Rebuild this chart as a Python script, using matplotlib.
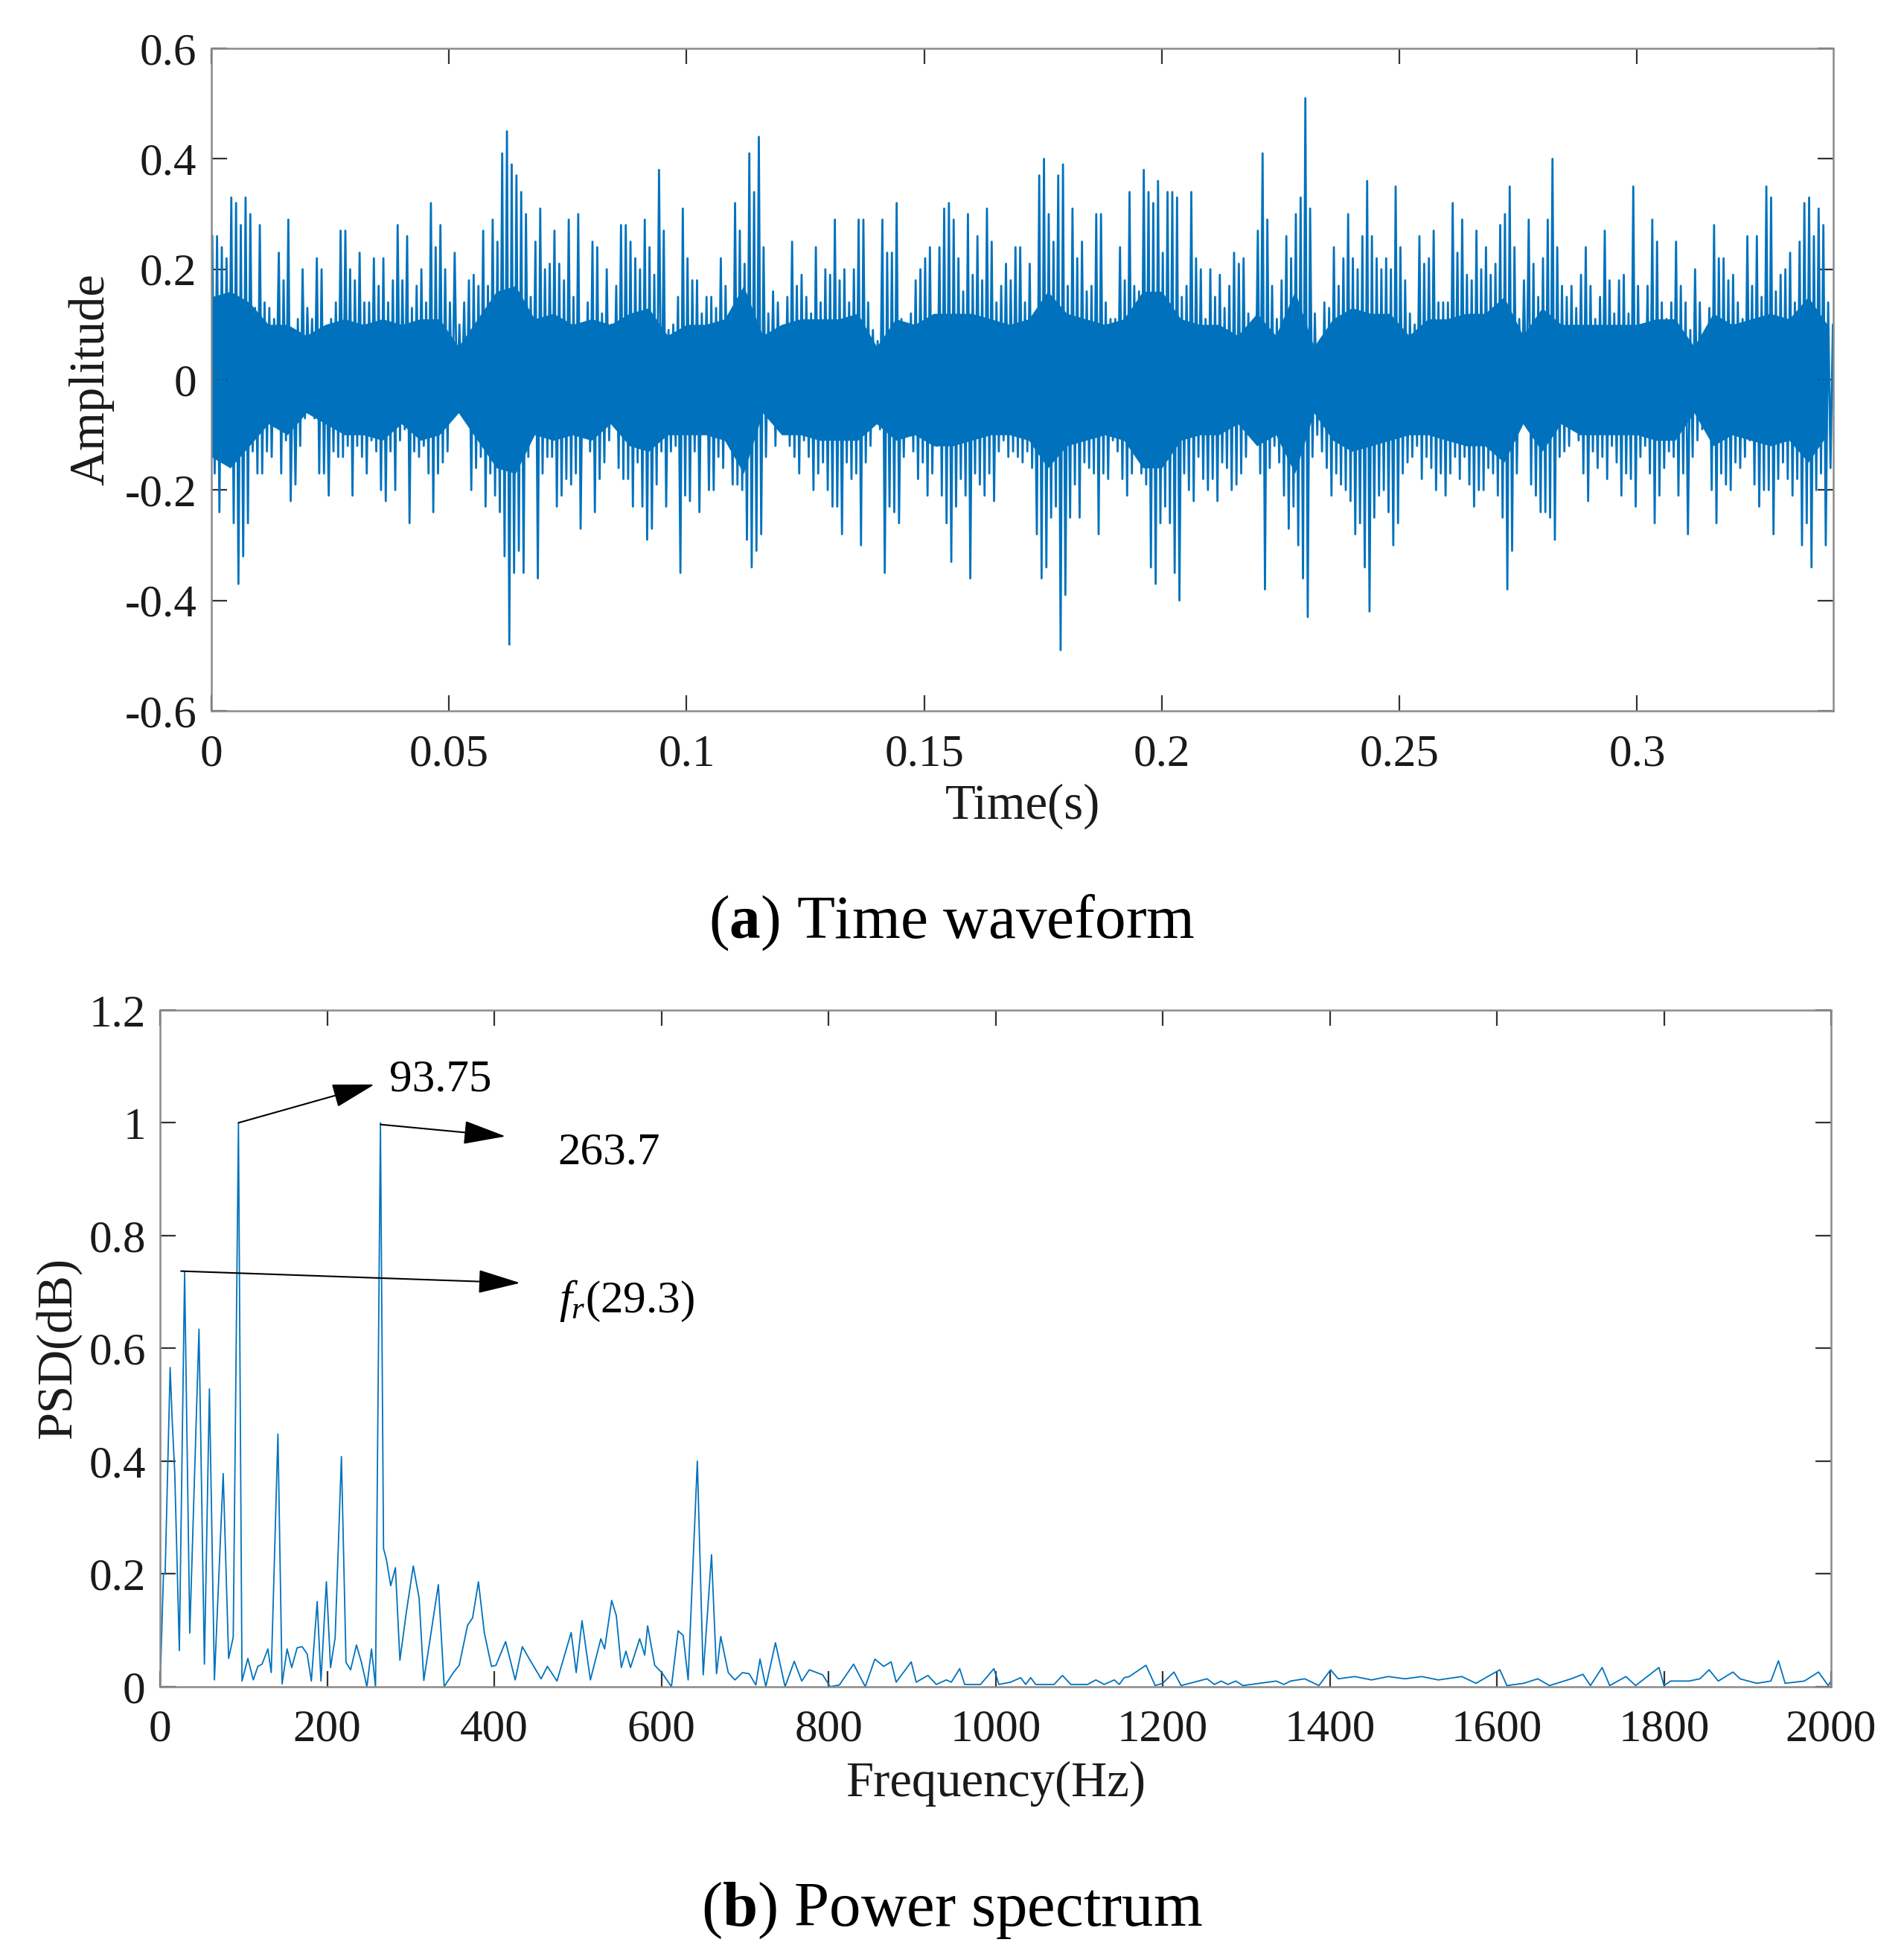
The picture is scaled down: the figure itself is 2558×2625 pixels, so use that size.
import numpy as np
import matplotlib
matplotlib.use("Agg")
import matplotlib.pyplot as plt
from matplotlib.ticker import FormatStrFormatter

plt.rcParams['font.family'] = 'Liberation Serif'
plt.rcParams['mathtext.fontset'] = 'custom'
plt.rcParams['mathtext.rm'] = 'Liberation Serif'
plt.rcParams['mathtext.it'] = 'Liberation Serif:italic'
plt.rcParams['mathtext.bf'] = 'Liberation Serif:bold'
plt.rcParams['axes.unicode_minus'] = False

# time waveform: largest / smallest excursion in each 1 ms slot
amp_hi = [
    .26, .26, .24, .22, .33, .32, .28, .33, .30, .13,
    .28, .14, .13, .11, .23, .18, .29, .07, .11, .20,
    .13, .11, .22, .20, .08, .11, .14, .27, .27, .20,
    .18, .23, .14, .14, .22, .17, .22, .14, .18, .28,
    .18, .26, .13, .17, .20, .14, .32, .24, .28, .20,
    .14, .23, .10, .14, .18, .19, .17, .27, .17, .29,
    .25, .41, .45, .39, .37, .34, .30, .15, .25, .31,
    .20, .21, .27, .21, .18, .29, .15, .30, .10, .14,
    .25, .24, .12, .20, .10, .17, .28, .28, .25, .22,
    .20, .29, .24, .19, .38, .27, .09, .10, .15, .31,
    .22, .18, .18, .12, .15, .15, .13, .22, .17, .05,
    .32, .27, .21, .41, .34, .44, .24, .12, .16, .14,
    .07, .15, .25, .17, .19, .15, .12, .24, .14, .20,
    .19, .29, .18, .20, .14, .20, .29, .29, .14, .09,
    .07, .29, .23, .23, .32, .11, .10, .12, .18, .20,
    .22, .24, .11, .24, .31, .32, .29, .22, .16, .30,
    .19, .26, .18, .31, .25, .14, .17, .21, .18, .24,
    .24, .14, .21, .10, .37, .40, .30, .25, .37, .39,
    .17, .31, .22, .25, .16, .17, .30, .30, .14, .11,
    .11, .24, .18, .34, .17, .16, .38, .34, .32, .36,
    .23, .34, .34, .33, .15, .17, .34, .22, .20, .11,
    .20, .15, .19, .13, .17, .23, .21, .22, .12, .09,
    .27, .41, .29, .17, .11, .18, .26, .22, .30, .33,
    .51, .31, .12, .07, .14, .13, .24, .17, .22, .30,
    .22, .20, .26, .36, .26, .22, .20, .22, .20, .35,
    .24, .18, .12, .10, .26, .21, .22, .27, .14, .14,
    .14, .32, .23, .29, .19, .18, .27, .20, .24, .19,
    .21, .28, .30, .35, .24, .11, .18, .29, .21, .15,
    .22, .29, .40, .24, .17, .15, .17, .13, .19, .24,
    .17, .11, .15, .27, .18, .12, .18, .19, .12, .35,
    .17, .10, .17, .29, .25, .14, .11, .14, .25, .17,
    .14, .09, .20, .14, .07, .13, .28, .22, .22, .18,
    .19, .14, .11, .26, .17, .26, .15, .35, .33, .16,
    .19, .20, .23, .14, .25, .32, .33, .26, .31, .28,
    .14, .10,
]
amp_lo = [
    -.17, -.24, -.14, -.14, -.26, -.37, -.32, -.26, -.13, -.17,
    -.17, -.13, -.14, -.03, -.17, -.11, -.22, -.19, -.12, -.07,
    -.01, -.07, -.17, -.17, -.21, -.13, -.14, -.14, -.12, -.21,
    -.12, -.14, -.17, -.11, -.13, -.20, -.22, -.13, -.20, -.11,
    -.09, -.26, -.13, -.14, -.12, -.17, -.24, -.17, -.15, -.13,
    -.07, -.05, -.04, -.07, -.20, -.16, -.14, -.23, -.17, -.21,
    -.24, -.32, -.48, -.35, -.31, -.35, -.14, -.09, -.36, -.17,
    -.14, -.14, -.23, -.21, -.18, -.19, -.17, -.27, -.09, -.13,
    -.24, -.18, -.15, -.11, -.07, -.16, -.18, -.18, -.23, -.15,
    -.23, -.29, -.27, -.19, -.13, -.23, -.13, -.12, -.35, -.21,
    -.22, -.13, -.24, -.09, -.20, -.20, -.14, -.16, -.11, -.19,
    -.19, -.20, -.29, -.34, -.31, -.28, -.14, -.07, -.12, -.03,
    -.08, -.12, -.14, -.17, -.11, -.14, -.20, -.17, -.15, -.20,
    -.23, -.23, -.28, -.15, -.18, -.17, -.30, -.15, -.12, -.06,
    -.09, -.35, -.23, -.24, -.26, -.14, -.10, -.13, -.18, -.15,
    -.21, -.17, -.12, -.21, -.26, -.33, -.23, -.18, -.21, -.36,
    -.17, -.19, -.21, -.17, -.22, -.13, -.11, -.14, -.13, -.14,
    -.15, -.13, -.16, -.28, -.36, -.34, -.25, -.23, -.49, -.39,
    -.25, -.19, -.25, -.15, -.16, -.17, -.28, -.17, -.18, -.11,
    -.13, -.18, -.21, -.17, -.14, -.17, -.19, -.34, -.37, -.26,
    -.23, -.26, -.35, -.40, -.17, -.20, -.22, -.14, -.18, -.20,
    -.18, -.22, -.15, -.16, -.20, -.19, -.17, -.14, -.06, -.07,
    -.17, -.38, -.16, -.12, -.15, -.21, -.27, -.23, -.30, -.36,
    -.43, -.14, -.10, -.13, -.16, -.21, -.17, -.19, -.20, -.22,
    -.28, -.26, -.34, -.42, -.25, -.21, -.20, -.24, -.30, -.26,
    -.17, -.15, -.14, -.12, -.18, -.14, -.16, -.20, -.17, -.21,
    -.17, -.14, -.18, -.14, -.19, -.23, -.20, -.20, -.16, -.17,
    -.21, -.25, -.38, -.31, -.17, -.07, -.06, -.19, -.21, -.24,
    -.24, -.25, -.29, -.14, -.13, -.12, -.09, -.11, -.17, -.22,
    -.13, -.16, -.14, -.18, -.12, -.15, -.21, -.17, -.18, -.23,
    -.14, -.12, -.17, -.26, -.21, -.16, -.13, -.14, -.21, -.17,
    -.28, -.14, -.11, -.09, -.08, -.20, -.26, -.17, -.19, -.20,
    -.15, -.16, -.14, -.11, -.19, -.23, -.20, -.20, -.28, -.18,
    -.15, -.18, -.21, -.18, -.30, -.26, -.34, -.20, -.17, -.30,
    -.16, -.16,
]
# solid core of the waveform, every 4 ms
core_hi = [
    .15, .16, .14, .10, .10, .08, .10, .11, .10, .11,
    .10, .11, .11, .06, .11, .16, .17, .11, .12, .10,
    .11, .10, .12, .13, .08, .10, .10, .11, .17, .08,
    .10, .11, .11, .11, .12, .06, .11, .10, .12, .12,
    .12, .11, .10, .11, .16, .12, .11, .10, .11, .16,
    .16, .11, .10, .10, .08, .12, .08, .16, .06, .11,
    .13, .12, .12, .08, .11, .11, .12, .12, .15, .08,
    .13, .10, .10, .10, .10, .10, .11, .11, .06, .12,
    .10, .11, .12, .11, .15, .10,
]
core_lo = [
    -.14, -.16, -.12, -.08, -.10, -.06, -.08, -.10, -.10, -.11,
    -.08, -.11, -.10, -.06, -.11, -.16, -.17, -.10, -.11, -.10,
    -.11, -.08, -.12, -.13, -.10, -.10, -.10, -.11, -.17, -.06,
    -.10, -.10, -.11, -.11, -.11, -.08, -.11, -.10, -.12, -.12,
    -.11, -.10, -.10, -.11, -.16, -.12, -.11, -.10, -.11, -.16,
    -.16, -.11, -.10, -.10, -.08, -.12, -.10, -.17, -.06, -.11,
    -.13, -.12, -.11, -.10, -.10, -.11, -.12, -.12, -.15, -.08,
    -.13, -.08, -.10, -.10, -.10, -.10, -.11, -.11, -.06, -.12,
    -.10, -.11, -.12, -.11, -.15, -.10,
]

# power spectrum vertices
freq = [
    0, 4, 6, 12, 14.5, 17.5, 23, 29.3, 35.5, 46.5,
    53, 59, 65, 75.5, 82, 87.5, 93.75, 98, 105, 111.5,
    117, 122, 129, 133, 141, 146, 152, 157.5, 164, 170,
    176, 181, 188, 192.5, 199, 204, 209.5, 217, 222.5, 228,
    235, 241, 247.5, 253, 257.8, 263.7, 267.4, 270.8, 276, 281.6,
    287, 294.6, 303, 310, 315.6, 326, 333, 340, 351, 358,
    368, 374, 381, 388, 396.6, 402, 413.5, 425, 433.5, 442,
    456, 463.5, 475, 492, 498, 505, 515, 527.5, 532, 540.5,
    546, 552, 557.5, 563, 574, 580, 583.5, 592, 600.5, 612,
    620, 626, 632, 643, 650, 660, 666, 671, 680, 688,
    697, 705, 713, 718, 725, 736.5, 748, 759, 768, 777,
    793, 802, 813, 830, 844, 855.5, 866, 875, 881, 887,
    899, 905, 919, 929, 941, 947, 957, 963, 982, 998,
    1004, 1018, 1030, 1036, 1042, 1048, 1070, 1080, 1090, 1110,
    1120, 1130, 1142, 1148, 1154, 1160, 1180, 1191, 1200, 1213.5,
    1222, 1253, 1262, 1270, 1278, 1287.5, 1296, 1336, 1345, 1353,
    1370, 1387, 1401, 1410, 1430, 1450, 1470, 1490, 1510, 1530,
    1558, 1575, 1589, 1603.6, 1612, 1632, 1649, 1663, 1689, 1703,
    1712, 1726, 1735, 1754.5, 1766, 1794, 1800, 1808, 1830, 1843,
    1854, 1865, 1882.6, 1891, 1911, 1928, 1937, 1945, 1968, 1985,
    1996.5, 2000,
]
psd = [
    0.0, 0.20, 0.20, 0.566, 0.47, 0.38, 0.064, 0.736, 0.095, 0.634,
    0.04, 0.528, 0.012, 0.378, 0.05, 0.088, 1.0, 0.01, 0.05, 0.012,
    0.036, 0.04, 0.067, 0.025, 0.448, 0.005, 0.067, 0.034, 0.069, 0.071,
    0.058, 0.01, 0.151, 0.01, 0.186, 0.034, 0.087, 0.408, 0.043, 0.03,
    0.074, 0.043, 0.0, 0.067, 0.0, 1.0, 0.245, 0.226, 0.179, 0.211,
    0.047, 0.131, 0.214, 0.157, 0.011, 0.113, 0.181, 0.0, 0.025, 0.038,
    0.109, 0.122, 0.186, 0.096, 0.036, 0.038, 0.08, 0.012, 0.071, 0.049,
    0.014, 0.036, 0.01, 0.096, 0.025, 0.117, 0.012, 0.085, 0.067, 0.153,
    0.126, 0.034, 0.063, 0.034, 0.085, 0.056, 0.108, 0.038, 0.025, 0.0,
    0.099, 0.091, 0.012, 0.40, 0.021, 0.234, 0.023, 0.089, 0.025, 0.012,
    0.025, 0.023, 0.003, 0.049, 0.0, 0.078, 0.0, 0.045, 0.01, 0.03,
    0.021, 0.0, 0.003, 0.04, 0.0, 0.049, 0.036, 0.044, 0.008, 0.02,
    0.044, 0.008, 0.02, 0.004, 0.012, 0.008, 0.032, 0.004, 0.004, 0.032,
    0.004, 0.008, 0.016, 0.004, 0.016, 0.004, 0.004, 0.02, 0.004, 0.004,
    0.012, 0.004, 0.012, 0.004, 0.016, 0.018, 0.038, 0.002, 0.006, 0.026,
    0.002, 0.014, 0.004, 0.010, 0.004, 0.010, 0.002, 0.010, 0.004, 0.010,
    0.014, 0.002, 0.030, 0.014, 0.018, 0.012, 0.018, 0.014, 0.018, 0.012,
    0.018, 0.006, 0.018, 0.030, 0.002, 0.006, 0.014, 0.002, 0.014, 0.022,
    0.002, 0.034, 0.002, 0.018, 0.002, 0.034, 0.002, 0.010, 0.010, 0.014,
    0.030, 0.010, 0.026, 0.014, 0.006, 0.010, 0.046, 0.006, 0.010, 0.026,
    0.002, 0.010,
]

BLUE = '#0072BD'
SPINE = '#8a8a8a'
TICK_FS = 44
LABEL_FS = 48


def style_axes(ax):
    for s in ax.spines.values():
        s.set_color(SPINE)
        s.set_linewidth(1.8)
    ax.tick_params(direction='in', top=True, right=True, length=15, width=1.6,
                   color='#333333', labelsize=TICK_FS, labelcolor='#1a1a1a')
    ax.tick_params(axis='x', pad=22)
    ax.tick_params(axis='y', pad=14)


fig = plt.figure(figsize=(25.58, 26.25), dpi=100)

# (a) time waveform
ax1 = fig.add_axes([0.1110, 0.6362, 0.8519, 0.3390])
t = np.arange(len(amp_hi)) * 0.001
xs = np.column_stack([t + 0.0002, t + 0.0007]).ravel()
ys = np.column_stack([amp_hi, amp_lo]).ravel()
tc = np.arange(len(core_hi)) * 0.004
ax1.fill_between(tc, core_lo, core_hi, color=BLUE, lw=0)
ax1.plot(xs, ys, color=BLUE, lw=2.0)
ax1.set_xlim(0, 0.3413)
ax1.set_ylim(-0.6, 0.6)
ax1.set_xticks([0, 0.05, 0.1, 0.15, 0.2, 0.25, 0.3])
ax1.set_yticks([-0.6, -0.4, -0.2, 0, 0.2, 0.4, 0.6])
ax1.xaxis.set_major_formatter(FormatStrFormatter('%g'))
ax1.yaxis.set_major_formatter(FormatStrFormatter('%g'))
style_axes(ax1)
ax1.set_xlabel('Time(s)', fontsize=LABEL_FS, labelpad=8, color='#1a1a1a')
ax1.set_ylabel('Amplitude', fontsize=LABEL_FS, labelpad=10, color='#1a1a1a')

# (b) power spectrum
ax2 = fig.add_axes([0.0841, 0.1368, 0.8776, 0.3463])
ax2.plot(freq, psd, color=BLUE, lw=1.3)
ax2.set_xlim(0, 2000)
ax2.set_ylim(0, 1.2)
ax2.set_xticks(np.arange(0, 2001, 200))
ax2.set_yticks([0, 0.2, 0.4, 0.6, 0.8, 1.0, 1.2])
ax2.yaxis.set_major_formatter(FormatStrFormatter('%g'))
style_axes(ax2)
ax2.set_xlabel('Frequency(Hz)', fontsize=LABEL_FS, labelpad=10, color='#1a1a1a')
ax2.set_ylabel('PSD(dB)', fontsize=LABEL_FS, labelpad=7, color='#1a1a1a')

arrow = dict(arrowstyle='-|>,head_length=0.9,head_width=0.25', color='black',
             lw=1.5, mutation_scale=40, shrinkA=0, shrinkB=0)
ax2.annotate('', xy=(256.5, 1.068), xytext=(93.75, 1.0), arrowprops=arrow)
ax2.annotate('', xy=(413.5, 0.976), xytext=(263.7, 0.997), arrowprops=arrow)
ax2.annotate('', xy=(431, 0.716), xytext=(25, 0.737), arrowprops=arrow)
ax2.text(274, 1.076, '93.75', fontsize=TICK_FS, va='center', ha='left')
ax2.text(476, 0.947, '263.7', fontsize=TICK_FS, va='center', ha='left')
ax2.text(477, 0.684, r'$f_r$(29.3)', fontsize=TICK_FS, va='center', ha='left')

fig.text(0.5, 0.52, r'($\mathbf{a}$) Time waveform', fontsize=60,
         ha='center', va='baseline')
fig.text(0.5, 0.0145, r'($\mathbf{b}$) Power spectrum', fontsize=61,
         ha='center', va='baseline')

fig.savefig('out.png', dpi=100, facecolor='white')
